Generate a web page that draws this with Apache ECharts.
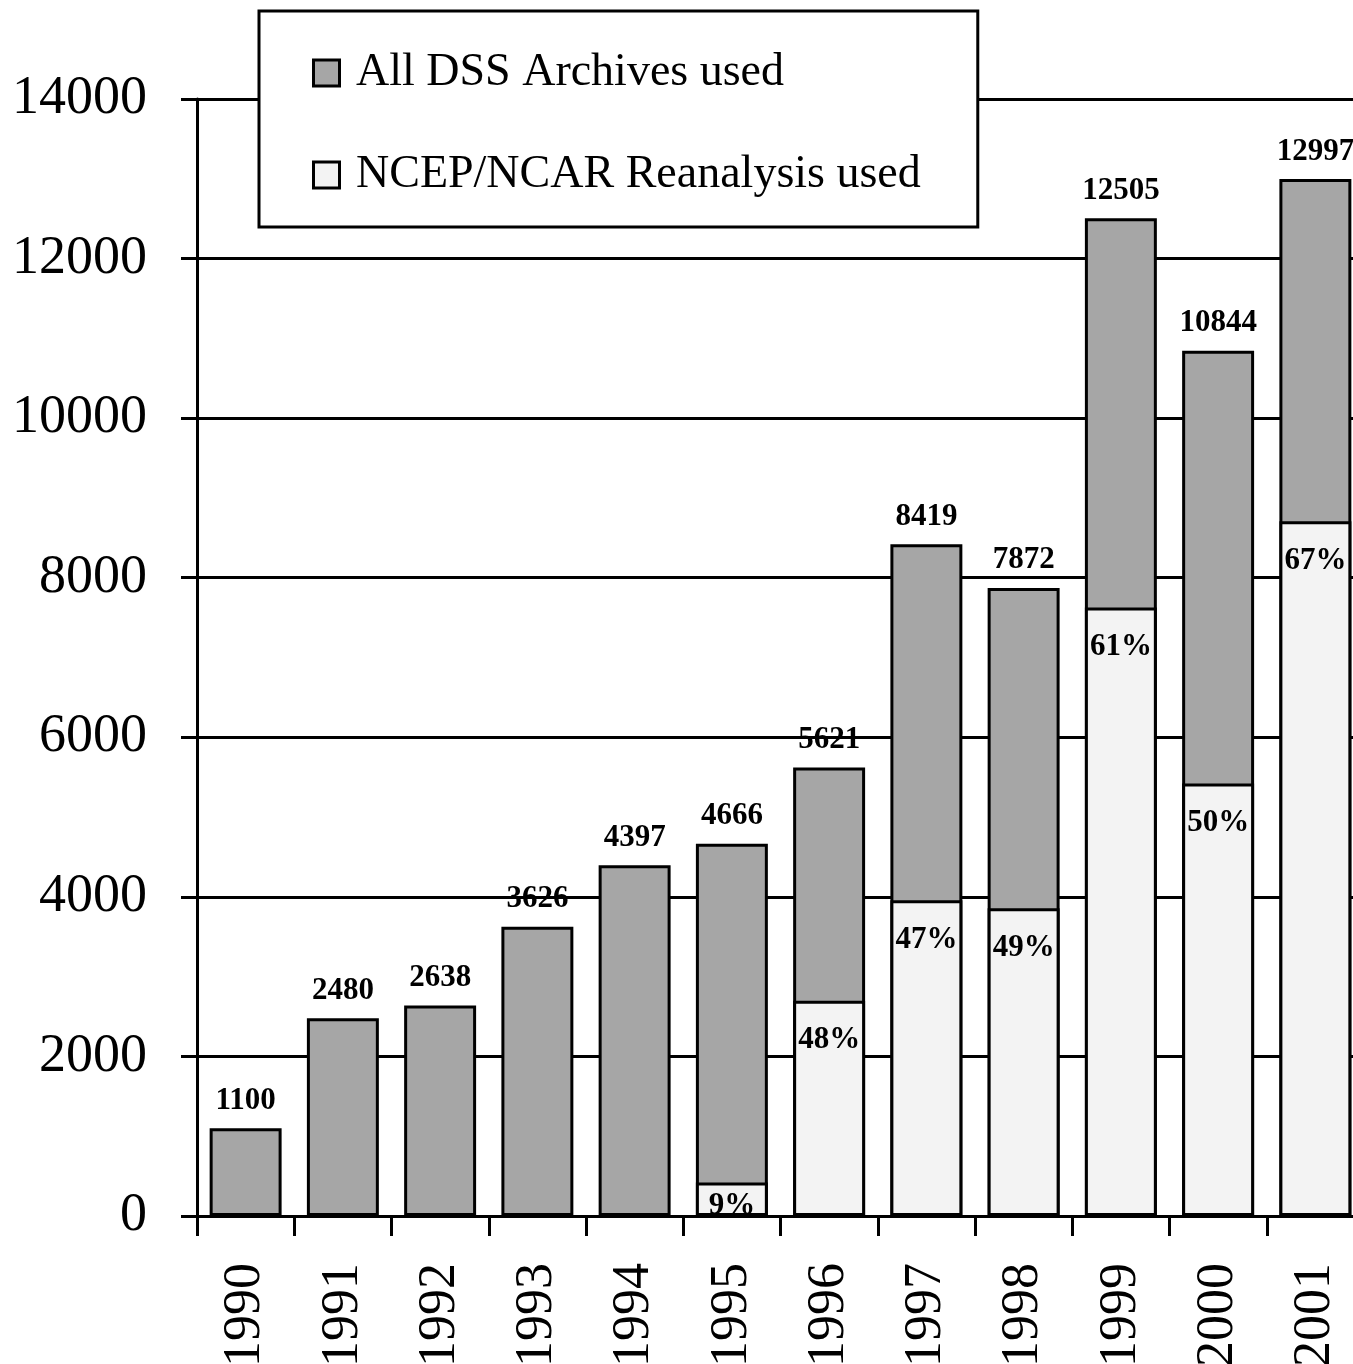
<!DOCTYPE html>
<html>
<head>
<meta charset="utf-8">
<title>DSS data requests by year</title>
<script src="https://cdn.jsdelivr.net/npm/echarts@6/dist/echarts.min.js"></script>
<style>
  html, body { margin: 0; padding: 0; background: #ffffff; }
  #chart { width: 1353px; height: 1364px; }
</style>
</head>
<body>
<div id="chart"></div>
<script>
// Yearly request counts; the NCEP/NCAR share is given as a percent of each year's total
const years = ['1990', '1991', '1992', '1993', '1994', '1995', '1996', '1997', '1998', '1999', '2000', '2001'];
const totalRequests = [1100, 2480, 2638, 3626, 4397, 4666, 5621, 8419, 7872, 12505, 10844, 12997];
const ncepSharePct = [null, null, null, null, null, 9, 48, 47, 49, 61, 50, 67];
const yAxisMin = 0;
const yAxisMax = 14000;
const yAxisStep = 2000;

const SERIF = "'Liberation Serif', 'DejaVu Serif', serif";
const GRAY = '#a6a6a6';
const LIGHT = '#f3f3f3';

// NCEP portion of each bar, derived from the stated share of the total
const ncepData = totalRequests.map(function (t, i) {
  const p = ncepSharePct[i];
  if (p == null) return '-';
  const v = Math.round(t * p / 100);
  // short bars get their percent label tucked closer to the top edge
  return { value: v, pct: p, label: { distance: v < 1000 ? 8 : 24 } };
});

const chart = echarts.init(document.getElementById('chart'), null, { renderer: 'canvas' });

chart.setOption({
  backgroundColor: '#ffffff',
  animation: false,
  textStyle: { fontFamily: SERIF },
  grid: { left: 197, right: -11, top: 99, bottom: 148, containLabel: false, outerBoundsMode: 'none' },
  legend: {
    orient: 'vertical',
    left: 259,
    top: 11,
    padding: [37, 57, 27, 53],
    itemGap: 52,
    itemWidth: 26,
    itemHeight: 26,
    icon: 'rect',
    backgroundColor: '#ffffff',
    borderColor: '#000000',
    borderWidth: 3,
    z: 20,
    formatter: function (name) { return ' ' + name; },
    textStyle: { fontFamily: SERIF, fontSize: 46, color: '#000000', lineHeight: 50 },
    data: [
      { name: 'All DSS Archives used', itemStyle: { color: GRAY, borderColor: '#000', borderWidth: 3 } },
      { name: 'NCEP/NCAR Reanalysis used', itemStyle: { color: LIGHT, borderColor: '#000', borderWidth: 3 } }
    ]
  },
  xAxis: {
    type: 'category',
    data: years,
    boundaryGap: true,
    axisLine: { show: true, lineStyle: { color: '#000', width: 3 } },
    axisTick: { show: true, inside: false, length: 20, alignWithLabel: false, lineStyle: { color: '#000', width: 3 } },
    axisLabel: { rotate: 90, margin: 47, fontFamily: SERIF, fontSize: 52, color: '#000' },
    splitLine: { show: false }
  },
  yAxis: {
    type: 'value',
    min: yAxisMin,
    max: yAxisMax,
    interval: yAxisStep,
    axisLine: { show: true, lineStyle: { color: '#000', width: 3 } },
    axisTick: { show: true, inside: false, length: 16, lineStyle: { color: '#000', width: 3 } },
    axisLabel: {
      margin: 50, fontFamily: SERIF, fontSize: 54, color: '#000',
      formatter: function (v) { return String(v); }
    },
    splitLine: { show: true, lineStyle: { color: '#000', width: 3 } }
  },
  series: [
    {
      name: 'All DSS Archives used',
      type: 'bar',
      data: totalRequests,
      barWidth: '74%',
      itemStyle: { color: GRAY, borderColor: '#000', borderWidth: 3 },
      label: {
        show: true,
        position: 'top',
        distance: 12,
        fontFamily: SERIF,
        fontSize: 31,
        fontWeight: 'bold',
        color: '#000'
      },
      z: 3
    },
    {
      name: 'NCEP/NCAR Reanalysis used',
      type: 'bar',
      data: ncepData,
      barWidth: '74%',
      barGap: '-100%',
      itemStyle: { color: LIGHT, borderColor: '#000', borderWidth: 3 },
      label: {
        show: true,
        position: 'insideTop',
        fontFamily: SERIF,
        fontSize: 31,
        fontWeight: 'bold',
        color: '#000',
        formatter: function (p) { return p.data.pct + '%'; }
      },
      z: 4
    }
  ]
});
</script>
</body>
</html>
